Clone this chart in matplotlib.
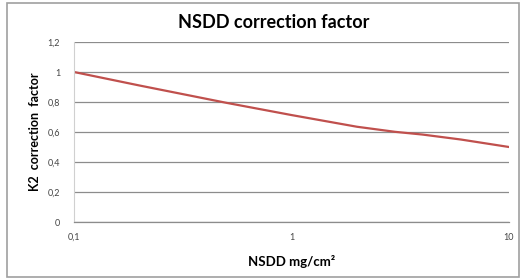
import numpy as np
import matplotlib
matplotlib.use('Agg')
from matplotlib import pyplot as plt
from matplotlib.patches import Rectangle

# NSDD (mg/cm2) vs K2 correction factor
nsdd = [0.1, 0.2, 0.5, 1, 2, 3, 4, 6, 10]
k2 = [1.0, 0.91, 0.795, 0.713, 0.635, 0.601, 0.583, 0.55, 0.5]
yticks = [0, 0.2, 0.4, 0.6, 0.8, 1.0, 1.2]
ytick_labels = ['0', '0,2', '0,4', '0,6', '0,8', '1', '1,2']
xticks = [0.1, 1, 10]
xtick_labels = ['0,1', '1', '10']

plt.rcParams['font.family'] = ['Lato', 'DejaVu Sans']

fig = plt.figure(figsize=(5.22, 2.78), dpi=100)
ax = fig.add_axes([74/522, 1 - 222/278, 435/522, 180/278])

ax.plot(nsdd, k2, color='#c0504d', lw=1.6)

ax.set_xscale('log')
ax.set_xlim(0.1, 10)
ax.set_ylim(0, 1.2)
ax.set_yticks(yticks)
ax.set_yticklabels(ytick_labels)
ax.set_xticks(xticks)
ax.set_xticklabels(xtick_labels)
ax.minorticks_off()
ax.tick_params(length=0, labelsize=6.5, colors='#444444', pad=8)
ax.tick_params(axis='y', pad=10)

ax.grid(axis='y', color='#8c8c8c', lw=0.9)
ax.set_axisbelow(True)
for s in ['top', 'right']:
    ax.spines[s].set_visible(False)
ax.spines['left'].set_color('#d0d0d0')
ax.spines['bottom'].set_color('#8c8c8c')
ax.spines['bottom'].set_linewidth(0.9)

fig.text(274/522, 1 - 22/278, 'NSDD correction factor', fontsize=13,
         fontweight='bold', ha='center', va='center')
ax.set_xlabel('NSDD mg/cm²', fontsize=9.5, fontweight='bold', labelpad=9)
ax.set_ylabel('K2  correction  factor', fontsize=9, fontweight='bold', labelpad=5)

# outer chart frame
fig.patches.append(Rectangle((7/522, 1/278), 512/522, 274/278, transform=fig.transFigure,
                             fill=False, edgecolor='#a0a0a0', lw=1.2))

fig.savefig('out.png', dpi=100, facecolor='white')
plt.close()
